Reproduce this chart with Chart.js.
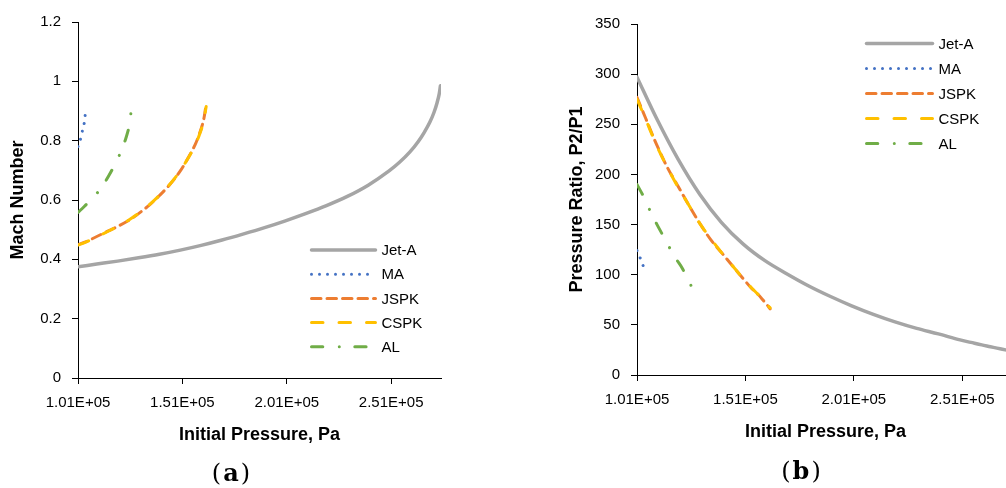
<!DOCTYPE html>
<html>
<head>
<meta charset="utf-8">
<script src="https://cdn.jsdelivr.net/npm/chart.js@4.4.1/dist/chart.umd.min.js"></script>
<style>
    html, body { margin: 0; padding: 0; background: #fff; overflow: hidden; }
    body { width: 1006px; height: 488px; position: relative; }
    canvas { position: absolute; top: 0; }
    #machChart { left: 0; }
    #ratioChart { left: 559px; }
    .panel {
        position: absolute;
        font-family: "DejaVu Serif", "Liberation Serif", serif;
        font-size: 24px;
        letter-spacing: 2px;
        color: #000;
        transform: translate(-50%, -50%);
        white-space: nowrap;
    }
</style>
</head>
<body>
<canvas id="machChart" width="500" height="488"></canvas>
<canvas id="ratioChart" width="490" height="488"></canvas>
<div class="panel" style="left:232px; top:472px">(<b>a</b>)</div>
<div class="panel" style="left:802px; top:470px">(<b>b</b>)</div>

<script>
// Shared x axis (initial pressure, Pa)
const xMin = 101000;
const xMax = 274870;
const xTicks = [101000, 151000, 201000, 251000];

// Y ticks for each panel
const machTicks = [0, 0.2, 0.4, 0.6, 0.8, 1.0, 1.2];
const ratioTicks = [0, 50, 100, 150, 200, 250, 300, 350];

// Jet-A
const jetAPressure = [101000, 110000, 120000, 130000, 140000, 150000, 160000, 170000, 180000, 190000,
    200000, 210000, 220000, 230000, 240000, 250000, 255000, 260000, 264000, 267000,
    269500, 271500, 273000, 274000, 274600];
const jetAMach = [0.375, 0.384, 0.394, 0.405, 0.417, 0.431, 0.447, 0.465, 0.485, 0.506,
    0.529, 0.554, 0.581, 0.612, 0.650, 0.698, 0.727, 0.762, 0.797, 0.830,
    0.862, 0.895, 0.928, 0.957, 0.985];
const jetARatio = [297, 256, 215, 180, 152, 130.5, 114, 101, 89, 78.5,
    69, 60.5, 53, 46.5, 41, 35, 32.5, 30, 28.2, 26.8,
    25.7, 24.8, 24.1, 23.7, 23.5];

// MA
const maPressure = [101000, 102000, 103000, 104000, 104500];
const maMach = [0.78, 0.80, 0.83, 0.86, 0.89];
const maRatio = [124, 119, 114, 108, 106];

// JSPK
const jspkPressure = [101000, 105000, 110000, 115000, 120000, 125000, 130000, 135000, 140000,
    145000, 150000, 154000, 157000, 159000, 160500, 161500, 162400];
const jspkMach = [0.450, 0.460, 0.477, 0.494, 0.511, 0.530, 0.554, 0.582, 0.615,
    0.652, 0.698, 0.745, 0.785, 0.820, 0.852, 0.882, 0.925];
const jspkRatio = [277, 256, 230, 207, 188, 169, 151, 135, 122,
    109, 96, 86, 80, 75, 71, 68.5, 66];

// CSPK
const cspkPressure = [101000, 105000, 110000, 115000, 120000, 125000, 130000, 135000, 140000,
    145000, 150000, 154000, 157000, 159000, 160500, 161500, 162400];
const cspkMach = [0.448, 0.459, 0.476, 0.493, 0.511, 0.531, 0.555, 0.583, 0.616,
    0.653, 0.699, 0.744, 0.783, 0.817, 0.848, 0.878, 0.915];
const cspkRatio = [275, 255, 229, 207, 187, 169, 151, 136, 122,
    109, 96, 86.5, 80, 75.5, 71.5, 69, 67];

// AL
const alPressure = [101000, 104000, 107000, 110000, 113000, 116000, 119000, 122000, 124000, 125500, 126400];
const alMach = [0.558, 0.578, 0.600, 0.622, 0.650, 0.685, 0.725, 0.770, 0.810, 0.850, 0.895];
const alRatio = [190, 178, 164, 151, 139, 127, 116, 106, 97, 91, 87];

const fuels = [
    { label: 'Jet-A', color: '#A5A5A5', width: 3.5, dash: [], order: 5 },
    { label: 'MA', color: '#4472C4', width: 3, dash: [0.001, 8], order: 4 },
    { label: 'JSPK', color: '#ED7D31', width: 3, dash: [9.5, 6], order: 3 },
    { label: 'CSPK', color: '#FFC000', width: 3, dash: [11.5, 16], order: 2 },
    { label: 'AL', color: '#70AD47', width: 3, dash: [11.3, 16.5, 0.001, 15.5], order: 1 }
];

const FONT = '"Liberation Sans", Arial, sans-serif';

// 1.01E+05 style labels
function sci(v) {
    const parts = Number(v).toExponential(2).split('e');
    const sign = parts[1][0];
    return parts[0] + 'E' + sign + parts[1].slice(1).padStart(2, '0');
}

function points(xs, ys) {
    return xs.map((x, i) => ({ x: x, y: ys[i] }));
}

// Legend drawn as line samples with the series dash patterns
const lineLegend = {
    id: 'lineLegend',
    afterDraw(chart, args, opts) {
        const ctx = chart.ctx;
        chart.data.datasets.forEach((ds, i) => {
            const y = opts.y + i * opts.gap;
            ctx.save();
            ctx.strokeStyle = ds.borderColor;
            ctx.lineWidth = ds.borderWidth;
            ctx.lineCap = 'round';
            ctx.setLineDash(ds.borderDash);
            ctx.beginPath();
            ctx.moveTo(opts.x, y);
            ctx.lineTo(opts.x + opts.len, y);
            ctx.stroke();
            ctx.restore();

            ctx.save();
            ctx.fillStyle = '#000';
            ctx.font = '15px ' + FONT;
            ctx.textBaseline = 'middle';
            ctx.fillText(ds.label, opts.x + opts.len + 6, y + 1);
            ctx.restore();
        });
    }
};

function buildChart(id, cfg) {
    const datasets = fuels.map((f, i) => ({
        label: f.label,
        data: points(cfg.pressures[i], cfg.values[i]),
        showLine: true,
        pointRadius: 0,
        borderColor: f.color,
        borderWidth: f.width,
        borderDash: f.dash,
        borderCapStyle: 'round',
        borderJoinStyle: 'round',
        cubicInterpolationMode: 'monotone',
        order: f.order
    }));

    new Chart(document.getElementById(id), {
        type: 'scatter',
        data: { datasets: datasets },
        options: {
            responsive: false,
            animation: false,
            events: [],
            layout: { padding: { top: cfg.top, right: cfg.right, left: 0, bottom: 0 } },
            plugins: {
                legend: { display: false },
                tooltip: { enabled: false },
                lineLegend: cfg.legend
            },
            scales: {
                x: {
                    type: 'linear',
                    min: xMin,
                    max: xMax,
                    afterFit: s => { s.height = cfg.xAxisHeight; },
                    afterBuildTicks: s => { s.ticks = xTicks.map(v => ({ value: v })); },
                    ticks: {
                        callback: v => sci(v),
                        font: { family: FONT, size: 15 },
                        color: '#000',
                        padding: 10,
                        maxRotation: 0,
                        autoSkip: false
                    },
                    grid: { drawOnChartArea: false, tickLength: 6, color: '#000' },
                    border: { color: '#000', width: 1 },
                    title: {
                        display: true,
                        text: 'Initial Pressure, Pa',
                        color: '#000',
                        font: { family: FONT, size: 18, weight: 'bold' },
                        padding: { bottom: cfg.xTitlePad }
                    }
                },
                y: {
                    type: 'linear',
                    min: cfg.yTicks[0],
                    max: cfg.yTicks[cfg.yTicks.length - 1],
                    afterFit: s => { s.width = 78; },
                    afterBuildTicks: s => { s.ticks = cfg.yTicks.map(v => ({ value: v })); },
                    ticks: {
                        callback: v => String(Math.round(v * 10) / 10),
                        font: { family: FONT, size: 15 },
                        color: '#000',
                        padding: 11,
                        autoSkip: false
                    },
                    grid: { drawOnChartArea: false, tickLength: 6, color: '#000' },
                    border: { color: '#000', width: 1 },
                    title: {
                        display: true,
                        text: cfg.yTitle,
                        color: '#000',
                        font: { family: FONT, size: 18, weight: 'bold' },
                        padding: { top: 7 }
                    }
                }
            }
        },
        plugins: [lineLegend]
    });
}

const allPressures = [jetAPressure, maPressure, jspkPressure, cspkPressure, alPressure];

buildChart('machChart', {
    pressures: allPressures,
    values: [jetAMach, maMach, jspkMach, cspkMach, alMach],
    yTicks: machTicks,
    yTitle: 'Mach Number',
    top: 22,
    right: 59,
    xAxisHeight: 110,
    xTitlePad: 42,
    legend: { x: 311.5, y: 250, gap: 24.2, len: 64 }
});

buildChart('ratioChart', {
    pressures: allPressures,
    values: [jetARatio, maRatio, jspkRatio, cspkRatio, alRatio],
    yTicks: ratioTicks,
    yTitle: 'Pressure Ratio, P2/P1',
    top: 24,
    right: 35,
    xAxisHeight: 113,
    xTitlePad: 45,
    legend: { x: 307.5, y: 43.5, gap: 25, len: 66 }
});
</script>
</body>
</html>
